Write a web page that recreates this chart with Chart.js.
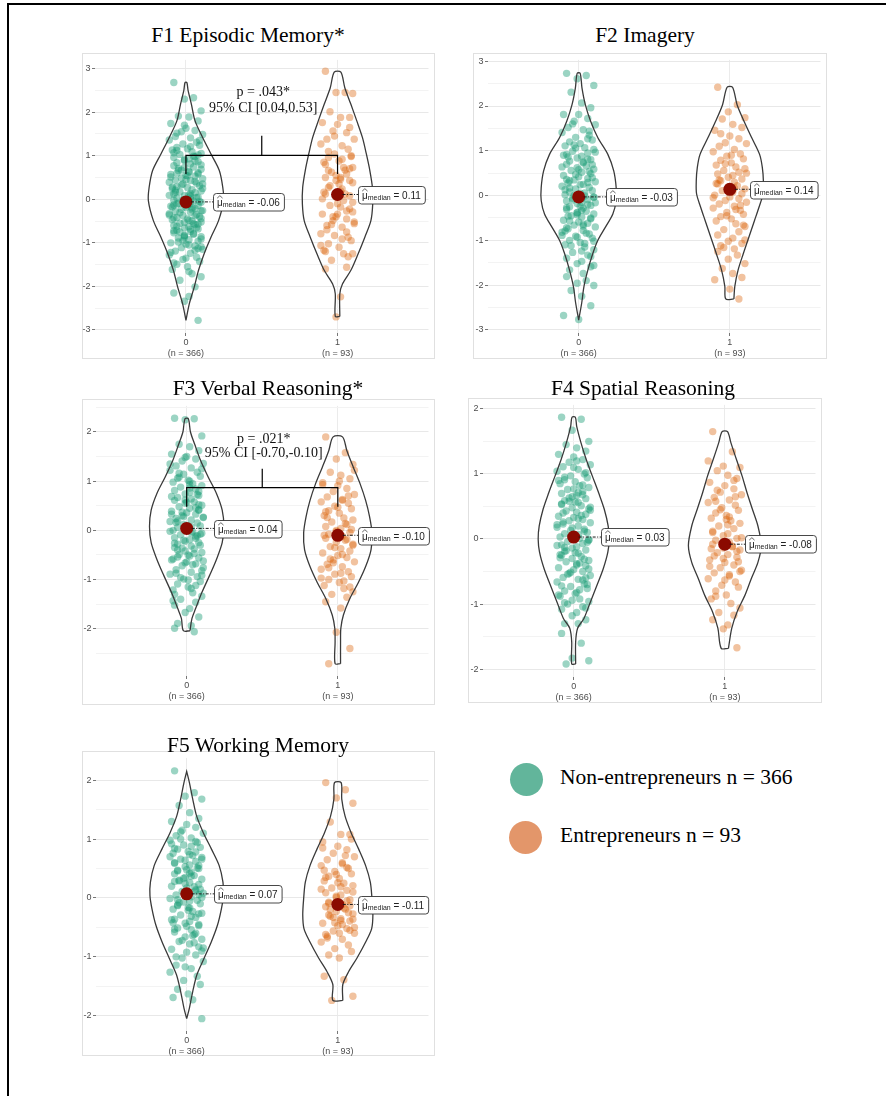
<!DOCTYPE html>
<html>
<head>
<meta charset="utf-8">
<title>Cognitive factors: non-entrepreneurs vs entrepreneurs</title>
<script src="https://cdn.jsdelivr.net/npm/chart.js@4.4.1/dist/chart.umd.min.js"></script>
<style>
  html, body { margin: 0; padding: 0; background: #fff; }
  body { width: 886px; height: 1096px; position: relative; overflow: hidden; font-family: "Liberation Serif", "DejaVu Serif", serif; }
  .frame { position: absolute; left: 7px; top: 3px; width: 900px; height: 1200px; border-top: 2px solid #000; border-left: 2px solid #000; }
  canvas.panel { position: absolute; }
  .title { position: absolute; width: 400px; text-align: center; font-size: 21.5px; line-height: 26px; color: #000; white-space: nowrap; }
  .legend-dot { position: absolute; width: 33px; height: 33px; border-radius: 50%; }
  .legend-text { position: absolute; font-size: 21.5px; line-height: 26px; color: #000; white-space: nowrap; }
</style>
</head>
<body>
<div class="frame"></div>
<div id="stage"></div>
<script>
// ---------- labels ----------
const TITLES = ['F1 Episodic Memory*', 'F2 Imagery', 'F3 Verbal Reasoning*', 'F4 Spatial Reasoning', 'F5 Working Memory'];
const GROUPS = [0, 1];
const X_TICK_LABELS = [['0', '(n = 366)'], ['1', '(n = 93)']];
const LEGEND_LABELS = ['Non-entrepreneurs n = 366', 'Entrepreneurs n = 93'];
const F1_TEST_TEXT = ['p = .043*', '95% CI [0.04,0.53]'];
const F3_TEST_TEXT = ['p = .021*', '95% CI [-0.70,-0.10]'];

// ---------- medians ----------
const F1_MEDIANS = [-0.06, 0.11];
const F2_MEDIANS = [-0.03, 0.14];
const F3_MEDIANS = [0.04, -0.10];
const F4_MEDIANS = [0.03, -0.08];
const F5_MEDIANS = [0.07, -0.11];

// ---------- factor scores (group 0 = non-entrepreneurs, group 1 = entrepreneurs) ----------
const F1_NON = [2.68,2.33,2.30,2.03,1.91,1.89,1.80,1.74,1.63,1.58,1.55,1.49,1.44,1.41,1.36,1.31,1.27,1.24,1.19,1.16,1.13,1.09,1.05,1.03,0.98,0.96,0.93,0.89,0.86,0.84,0.81,0.77,0.74,0.73,0.69,0.66,0.64,0.61,0.57,0.55,0.53,0.49,0.47,0.44,0.43,0.39,0.37,0.35,0.31,0.29,0.27,0.24,0.22,0.19,0.17,0.15,0.12,0.10,0.08,0.05,0.03,0.01,-0.02,-0.04,-0.06,-0.07,-0.09,-0.12,-0.14,-0.16,-0.19,-0.21,-0.23,-0.26,-0.28,-0.30,-0.33,-0.35,-0.37,-0.40,-0.42,-0.45,-0.47,-0.50,-0.52,-0.55,-0.58,-0.60,-0.63,-0.66,-0.68,-0.71,-0.74,-0.77,-0.80,-0.83,-0.86,-0.89,-0.93,-0.96,-1.00,-1.03,-1.07,-1.11,-1.15,-1.19,-1.24,-1.28,-1.33,-1.38,-1.43,-1.49,-1.55,-1.61,-1.71,-1.78,-1.86,-2.01,-2.15,-2.23,-2.34,-2.78,
  1.52,1.21,1.07,0.99,0.91,0.79,0.71,0.62,0.58,0.51,0.45,0.41,0.33,0.25,0.21,0.13,0.09,0.04,-0.01,-0.05,-0.11,-0.15,-0.18,-0.24,-0.27,-0.31,-0.38,-0.43,-0.48,-0.53,-0.57,-0.62,-0.69,-0.72,-0.79,-0.84,-0.91,-0.98,-1.05,-1.13,-1.22,-1.35,0.88,0.67,0.35,0.16,-0.08,-0.36,-0.65,-0.95,1.35,1.12,0.54,0.28,-0.20,-0.44,-0.75,-1.17,-1.46,-1.66,1.70,1.02,0.60,0.07,-0.13,-0.56,-0.87,-1.09];
const F1_ENT = [2.94,2.45,2.45,2.43,2.01,1.88,1.88,1.76,1.72,1.53,1.57,1.38,1.38,1.23,1.27,1.15,1.04,1.00,0.96,0.88,0.85,0.73,0.73,0.62,0.58,0.50,0.50,0.43,0.43,0.27,0.24,0.12,0.12,0.05,-0.07,-0.14,-0.18,-0.22,-0.34,-0.34,-0.45,-0.49,-0.56,-0.60,-0.64,-0.79,-0.87,-0.83,-0.95,-1.02,-1.10,-1.17,-1.25,-1.25,-1.40,-1.56,-1.60,-2.24,-2.70,
  1.65,1.10,0.92,0.80,0.67,0.55,0.38,0.31,0.19,0.08,0.01,-0.10,-0.27,-0.40,-0.52,-0.70,-0.91,-1.06,-1.32,1.45,0.98,0.66,0.35,0.16,-0.03,-0.29,-0.58,-0.75,-1.20,0.46,-0.40,0.70];
const F2_NON = [2.73,2.68,2.61,2.46,2.31,2.07,1.96,1.81,1.81,1.72,1.66,1.58,1.52,1.47,1.41,1.35,1.30,1.24,1.20,1.16,1.11,1.07,1.03,0.99,0.95,0.92,0.88,0.84,0.80,0.77,0.73,0.70,0.66,0.62,0.59,0.56,0.52,0.49,0.45,0.42,0.38,0.35,0.31,0.28,0.25,0.21,0.18,0.15,0.11,0.08,0.05,0.02,-0.01,-0.03,-0.06,-0.09,-0.12,-0.15,-0.18,-0.22,-0.25,-0.28,-0.31,-0.35,-0.38,-0.41,-0.45,-0.48,-0.52,-0.55,-0.59,-0.62,-0.66,-0.70,-0.74,-0.78,-0.82,-0.86,-0.91,-0.95,-1.00,-1.05,-1.10,-1.15,-1.21,-1.27,-1.33,-1.40,-1.47,-1.52,-1.59,-1.66,-1.74,-1.81,-1.90,-1.96,-2.01,-2.12,-2.25,-2.46,-2.68,-2.77,
  1.27,1.13,0.97,0.86,0.75,0.64,0.54,0.47,0.40,0.33,0.24,0.13,0.06,-0.04,-0.10,-0.20,-0.27,-0.33,-0.43,-0.50,-0.57,-0.64,-0.72,-0.84,-0.93,-1.02,-1.12,-1.24,-1.36,0.90,0.58,0.29,0.00,-0.16,-0.46,-0.68,-0.89,1.44,1.06,0.69,0.17,-0.24,-0.79,-1.07,-1.56,1.60,0.81,0.36,-0.07,-0.39];
const F2_ENT = [2.42,2.03,1.87,1.74,1.71,1.59,1.52,1.46,1.33,1.27,1.18,1.16,1.10,1.03,0.98,0.93,0.88,0.82,0.79,0.73,0.68,0.64,0.60,0.56,0.52,0.48,0.45,0.41,0.37,0.33,0.30,0.26,0.22,0.19,0.15,0.11,0.08,0.04,0.01,-0.03,-0.07,-0.11,-0.15,-0.19,-0.24,-0.28,-0.33,-0.38,-0.42,-0.47,-0.52,-0.57,-0.63,-0.69,-0.76,-0.81,-0.88,-0.95,-1.02,-1.07,-1.12,-1.19,-1.25,-1.33,-1.42,-1.52,-1.63,-1.74,-1.83,-1.88,-2.09,-2.31,
  0.71,0.50,0.35,0.17,-0.05,-0.22,-0.45,-0.66,1.38,0.90,0.27,-0.31,-0.99,-1.16];
const F3_NON = [2.28,2.27,2.25,1.92,1.75,1.70,1.62,1.55,1.50,1.45,1.41,1.36,1.31,1.27,1.22,1.18,1.14,1.10,1.06,1.02,0.98,0.95,0.91,0.88,0.84,0.81,0.77,0.74,0.71,0.67,0.64,0.61,0.58,0.55,0.51,0.48,0.45,0.42,0.39,0.36,0.33,0.30,0.27,0.24,0.21,0.18,0.15,0.12,0.09,0.06,0.03,0.00,-0.03,-0.06,-0.09,-0.12,-0.15,-0.19,-0.22,-0.25,-0.28,-0.32,-0.35,-0.38,-0.42,-0.45,-0.49,-0.52,-0.56,-0.60,-0.64,-0.68,-0.72,-0.76,-0.80,-0.85,-0.89,-0.94,-0.99,-1.04,-1.09,-1.15,-1.21,-1.27,-1.34,-1.40,-1.46,-1.52,-1.59,-1.67,-1.76,-1.89,-1.94,-1.99,-2.06,
  1.48,1.25,1.08,0.93,0.79,0.69,0.57,0.46,0.37,0.26,0.16,0.07,-0.02,-0.11,-0.20,-0.30,-0.40,-0.50,-0.58,-0.70,-0.82,-0.96,-1.12,-1.30,1.00,0.62,0.41,0.19,-0.05,-0.26,-0.47,-0.66,-0.91,1.16,0.86,0.52,0.33,0.10,-0.16,-0.36,-0.62,-0.87,-1.18,1.35,0.73,0.28,-0.08,-0.54,-1.01,-1.43];
const F3_ENT = [1.90,1.58,1.45,1.34,1.18,1.12,1.05,0.97,0.91,0.85,0.79,0.73,0.68,0.63,0.58,0.55,0.49,0.44,0.40,0.35,0.30,0.25,0.21,0.17,0.12,0.08,0.04,0.00,-0.04,-0.08,-0.12,-0.16,-0.20,-0.24,-0.28,-0.33,-0.37,-0.42,-0.46,-0.51,-0.55,-0.60,-0.64,-0.69,-0.74,-0.79,-0.84,-0.89,-0.94,-1.00,-1.06,-1.12,-1.18,-1.25,-1.30,-1.36,-1.45,-1.58,-2.07,-2.40,-2.71,
  0.61,0.38,0.14,-0.02,-0.30,-0.58,-0.87,-1.15,0.93,0.47,-0.18,-0.66,1.22,0.26,-0.49,-0.97,0.70,-0.35,0.02,-0.76,1.00,-0.10,-1.03];
const F4_NON = [1.87,1.84,1.67,1.50,1.45,1.40,1.35,1.30,1.26,1.22,1.18,1.14,1.11,1.07,1.04,1.00,0.97,0.94,0.91,0.88,0.85,0.82,0.79,0.76,0.73,0.70,0.67,0.65,0.62,0.59,0.56,0.54,0.51,0.48,0.46,0.43,0.41,0.38,0.35,0.33,0.30,0.28,0.25,0.23,0.20,0.18,0.15,0.13,0.10,0.08,0.05,0.03,0.01,-0.02,-0.04,-0.07,-0.09,-0.12,-0.14,-0.17,-0.19,-0.22,-0.25,-0.27,-0.30,-0.33,-0.35,-0.38,-0.41,-0.44,-0.47,-0.50,-0.53,-0.56,-0.59,-0.62,-0.66,-0.69,-0.73,-0.76,-0.80,-0.84,-0.88,-0.92,-0.96,-1.00,-1.04,-1.08,-1.13,-1.18,-1.24,-1.30,-1.30,-1.45,-1.60,-1.83,-1.87,-1.92,
  1.20,1.02,0.90,0.77,0.68,0.58,0.49,0.40,0.31,0.22,0.12,0.04,-0.05,-0.13,-0.21,-0.29,-0.37,-0.46,-0.54,-0.63,-0.72,-0.82,-0.94,-1.06,0.95,0.71,0.53,0.36,0.17,-0.01,-0.18,-0.40,-0.60,-0.86,1.10,0.83,0.63,0.44,0.26,0.07,-0.10,-0.31,-0.51,-0.70,-0.98,0.57,-0.24,-0.78];
const F4_ENT = [1.65,1.34,1.12,1.10,1.05,0.98,0.93,0.87,0.82,0.77,0.72,0.68,0.64,0.60,0.56,0.52,0.48,0.44,0.40,0.36,0.32,0.28,0.24,0.20,0.16,0.12,0.08,0.05,0.01,-0.02,-0.05,-0.08,-0.11,-0.14,-0.17,-0.21,-0.24,-0.28,-0.32,-0.36,-0.40,-0.44,-0.48,-0.52,-0.57,-0.61,-0.66,-0.71,-0.74,-0.80,-0.86,-0.92,-0.99,-1.06,-1.13,-1.17,-1.24,-1.32,-1.38,-1.67,
  0.58,0.34,0.10,-0.12,-0.30,-0.50,0.75,0.22,-0.19,-0.42,-0.63,0.90,0.45,0.02,-0.26,-0.55,1.20,0.65,-0.09,-0.35,-0.88,0.30,-0.15];
const F5_NON = [2.16,1.79,1.73,1.68,1.57,1.45,1.35,1.30,1.25,1.20,1.15,1.10,1.06,1.02,0.98,0.94,0.90,0.86,0.83,0.79,0.76,0.72,0.69,0.66,0.62,0.59,0.56,0.53,0.50,0.47,0.44,0.41,0.38,0.35,0.32,0.29,0.26,0.23,0.20,0.17,0.14,0.11,0.08,0.05,0.02,-0.01,-0.04,-0.07,-0.10,-0.13,-0.16,-0.19,-0.23,-0.26,-0.29,-0.33,-0.36,-0.40,-0.43,-0.47,-0.51,-0.54,-0.58,-0.62,-0.66,-0.70,-0.74,-0.78,-0.83,-0.87,-0.92,-0.97,-1.02,-1.08,-1.14,-1.20,-1.26,-1.33,-1.40,-1.47,-1.55,-1.63,-1.69,-1.73,-2.05,
  1.12,0.96,0.84,0.74,0.64,0.55,0.46,0.37,0.28,0.19,0.10,0.01,-0.08,-0.17,-0.27,-0.37,-0.48,-0.60,-0.72,-0.85,-1.00,0.88,0.70,0.51,0.33,0.15,-0.03,-0.21,-0.42,-0.64,-0.90,1.00,0.78,0.60,0.42,0.24,0.06,-0.12,-0.31,-0.53,-0.76,-1.17,0.66,0.30,-0.05,-0.45,0.92,0.48,0.12];
const F5_ENT = [1.96,1.84,1.70,1.61,1.29,1.08,1.08,0.95,0.88,0.82,0.76,0.70,0.65,0.60,0.55,0.50,0.45,0.41,0.37,0.33,0.29,0.25,0.21,0.17,0.13,0.09,0.05,0.01,-0.03,-0.07,-0.11,-0.15,-0.19,-0.23,-0.27,-0.31,-0.35,-0.39,-0.43,-0.47,-0.52,-0.56,-0.60,-0.65,-0.70,-0.75,-0.80,-0.86,-0.91,-0.97,-1.02,-1.33,-1.39,-1.67,-1.74,
  0.52,0.35,0.19,0.03,-0.13,-0.29,-0.45,-0.62,0.72,0.40,0.10,-0.20,-0.38,-0.55,0.85,0.26,-0.05,-0.33,-0.50,-0.68,0.58,0.15,-0.25,-0.42,1.00,-0.09,-0.60,0.47,-0.17,-0.36];

// ---------- violin density outlines: [score, half-width] from bottom to top ----------
const F1_NON_VIOLIN = [[-2.78,0.0],[-2.4,0.022],[-2.01,0.055],[-1.63,0.083],[-1.25,0.12],[-0.87,0.165],[-0.49,0.215],[-0.03,0.248],[0.27,0.243],[0.66,0.22],[1.04,0.165],[1.42,0.11],[1.8,0.06],[2.18,0.036],[2.5,0.014],[2.68,0.006]];
const F1_ENT_VIOLIN = [[-2.69,0.015],[-2.17,0.015],[-1.94,0.033],[-1.63,0.088],[-1.25,0.136],[-0.87,0.18],[-0.49,0.22],[-0.11,0.232],[0.27,0.23],[0.66,0.213],[1.04,0.19],[1.42,0.164],[1.8,0.127],[2.18,0.088],[2.56,0.048],[2.92,0.022]];
const F2_NON_VIOLIN = [[-2.78,0.0],[-2.4,0.02],[-2.03,0.035],[-1.66,0.061],[-1.29,0.094],[-1.0,0.127],[-0.7,0.178],[-0.41,0.226],[-0.11,0.248],[0.18,0.248],[0.55,0.232],[0.92,0.193],[1.29,0.127],[1.66,0.079],[2.03,0.044],[2.4,0.022],[2.73,0.01]];
const F2_ENT_VIOLIN = [[-2.31,0.027],[-2.03,0.033],[-1.66,0.055],[-1.29,0.09],[-0.92,0.127],[-0.55,0.164],[-0.26,0.193],[0.04,0.22],[0.33,0.222],[0.63,0.215],[0.92,0.197],[1.29,0.145],[1.66,0.094],[2.03,0.048],[2.42,0.018]];
const F3_NON_VIOLIN = [[-2.04,0.022],[-1.79,0.035],[-1.59,0.059],[-1.26,0.101],[-0.92,0.151],[-0.59,0.197],[-0.25,0.235],[0.08,0.246],[0.41,0.235],[0.75,0.197],[1.08,0.143],[1.42,0.092],[1.75,0.053],[2.0,0.025],[2.27,0.011]];
const F3_ENT_VIOLIN = [[-2.71,0.018],[-2.26,0.018],[-1.99,0.02],[-1.72,0.037],[-1.39,0.079],[-1.06,0.136],[-0.72,0.186],[-0.39,0.22],[-0.05,0.226],[0.28,0.21],[0.61,0.184],[0.95,0.147],[1.28,0.103],[1.62,0.06],[1.9,0.031]];
const F4_NON_VIOLIN = [[-1.92,0.013],[-1.58,0.013],[-1.37,0.026],[-1.22,0.068],[-0.97,0.11],[-0.71,0.154],[-0.46,0.195],[-0.2,0.226],[0.0,0.235],[0.2,0.228],[0.46,0.202],[0.71,0.165],[0.97,0.123],[1.22,0.083],[1.48,0.048],[1.73,0.02],[1.87,0.011]];
const F4_ENT_VIOLIN = [[-1.68,0.024],[-1.37,0.046],[-1.12,0.081],[-0.87,0.132],[-0.61,0.175],[-0.36,0.219],[-0.1,0.241],[0.2,0.219],[0.46,0.182],[0.71,0.147],[0.97,0.114],[1.22,0.077],[1.48,0.04],[1.65,0.018]];
const F5_NON_VIOLIN = [[-2.05,0.0],[-1.87,0.018],[-1.59,0.04],[-1.3,0.068],[-1.02,0.116],[-0.74,0.164],[-0.46,0.204],[-0.18,0.23],[0.04,0.243],[0.27,0.24],[0.55,0.215],[0.83,0.164],[1.11,0.11],[1.39,0.066],[1.68,0.04],[1.96,0.018],[2.15,0.0]];
const F5_ENT_VIOLIN = [[-1.74,0.033],[-1.47,0.033],[-1.25,0.072],[-1.02,0.127],[-0.74,0.186],[-0.52,0.224],[-0.29,0.232],[-0.01,0.226],[0.27,0.215],[0.55,0.184],[0.83,0.138],[1.11,0.088],[1.39,0.048],[1.68,0.026],[1.96,0.022]];

// ---------- styling ----------
const SANS = '"Liberation Sans", Arial, sans-serif';
const SERIF = '"Liberation Serif", "DejaVu Serif", serif';
const POINT_COLORS = ['rgba(27,158,119,0.44)', 'rgba(217,95,2,0.38)'];
const LEGEND_COLORS = ['#62b59b', '#e3966a'];
const MEDIAN_COLOR = '#8b0a00';
const VIOLIN_COLOR = '#3a3a3a';
// horizontal spread of the jittered points (category units), cycled over the points
const JITTER = [-0.08,0.05,-0.01,0.10,-0.05,0.02,0.08,-0.10,0.00,0.06,-0.03,0.11,-0.07,0.03,-0.11,0.07,-0.02,0.09,-0.06,0.01,-0.09,0.04,0.10,-0.04,0.06,-0.08,0.02,-0.01,0.08,-0.06,0.03];
const LABEL_OFFSETS = [27, 20];

// panel layout: box = [left, top, width, height] in page px; pad = plot-area insets
const PANELS = [
  { title: TITLES[0], titleAt: [248, 35], box: [82, 53, 353, 306], pad: { l: 13, r: 6, t: 6, b: 26 }, yRange: [-3.07, 3.2],
    non: F1_NON, ent: F1_ENT, nonViolin: F1_NON_VIOLIN, entViolin: F1_ENT_VIOLIN, medians: F1_MEDIANS,
    test: { text: F1_TEST_TEXT, bar: 1.01, drop: 0.58, stem: 1.46, textY: [2.45, 2.09] } },
  { title: TITLES[1], titleAt: [645, 35], box: [473, 53, 354, 306], pad: { l: 15, r: 5, t: 6, b: 26 }, yRange: [-3.07, 3.03],
    non: F2_NON, ent: F2_ENT, nonViolin: F2_NON_VIOLIN, entViolin: F2_ENT_VIOLIN, medians: F2_MEDIANS, test: null },
  { title: TITLES[2], titleAt: [268, 388], box: [82, 399, 353, 306], pad: { l: 14, r: 6, t: 4, b: 29 }, yRange: [-2.96, 2.53],
    non: F3_NON, ent: F3_ENT, nonViolin: F3_NON_VIOLIN, entViolin: F3_ENT_VIOLIN, medians: F3_MEDIANS,
    test: { text: F3_TEST_TEXT, bar: 0.87, drop: 0.48, stem: 1.25, textY: [1.85, 1.57] } },
  { title: TITLES[3], titleAt: [643, 388], box: [468, 398, 354, 305], pad: { l: 15, r: 5, t: 5, b: 26 }, yRange: [-2.12, 2.06],
    non: F4_NON, ent: F4_ENT, nonViolin: F4_NON_VIOLIN, entViolin: F4_ENT_VIOLIN, medians: F4_MEDIANS, test: null },
  { title: TITLES[4], titleAt: [258, 745], box: [82, 751, 353, 305], pad: { l: 14, r: 6, t: 4, b: 25 }, yRange: [-2.26, 2.38],
    non: F5_NON, ent: F5_ENT, nonViolin: F5_NON_VIOLIN, entViolin: F5_ENT_VIOLIN, medians: F5_MEDIANS, test: null }
];

function jittered(values, g) {
  return values.map((v, i) => ({ x: g + JITTER[i % JITTER.length], y: v }));
}
function violinOutline(profile, g) {
  const right = profile.map(([y, w]) => ({ x: g + w, y }));
  const left = profile.slice().reverse().map(([y, w]) => ({ x: g - w, y }));
  return right.concat(left, [right[0]]);
}
function halfSteps(min, max) {
  const out = [];
  for (let v = Math.ceil(min * 2) / 2; v <= max + 1e-9; v += 0.5) out.push(Math.round(v * 2) / 2);
  return out;
}
const isWhole = v => v !== undefined && Math.abs(v - Math.round(v)) < 1e-6;

function roundRect(ctx, x, y, w, h, r) {
  ctx.beginPath();
  ctx.moveTo(x + r, y);
  ctx.lineTo(x + w - r, y); ctx.quadraticCurveTo(x + w, y, x + w, y + r);
  ctx.lineTo(x + w, y + h - r); ctx.quadraticCurveTo(x + w, y + h, x + w - r, y + h);
  ctx.lineTo(x + r, y + h); ctx.quadraticCurveTo(x, y + h, x, y + h - r);
  ctx.lineTo(x, y + r); ctx.quadraticCurveTo(x, y, x + r, y);
  ctx.closePath();
}

function drawMedianLabel(ctx, x, y, value, offset) {
  const bx = Math.round(x + offset) + 0.5;
  ctx.save();
  // dot-dash connector from the median point to its label
  ctx.strokeStyle = '#1a1a1a';
  ctx.lineWidth = 1;
  ctx.setLineDash([3, 1.5, 1, 1.5]);
  ctx.beginPath(); ctx.moveTo(x + 5, y); ctx.lineTo(bx, y); ctx.stroke();
  ctx.setLineDash([]);
  const big = '10px ' + SANS, small = '7px ' + SANS;
  const valTxt = ' = ' + value.toFixed(2);
  ctx.font = big;
  const wMu = ctx.measureText('μ').width;
  const wVal = ctx.measureText(valTxt).width;
  ctx.font = small;
  const wSub = ctx.measureText('median').width;
  const padL = 3.5, padR = 4.5, h = 17.5;
  const w = padL + wMu + wSub + wVal + padR;
  const top = Math.round(y - h / 2) + 0.5;
  roundRect(ctx, bx, top, w, h, 3);
  ctx.fillStyle = '#fff'; ctx.fill();
  ctx.strokeStyle = '#333'; ctx.lineWidth = 0.9; ctx.stroke();
  const base = top + 12.2;
  ctx.fillStyle = '#222';
  ctx.textBaseline = 'alphabetic'; ctx.textAlign = 'left';
  ctx.font = big; ctx.fillText('μ', bx + padL, base);
  // circumflex over the mu
  ctx.strokeStyle = '#222'; ctx.lineWidth = 0.7;
  ctx.beginPath();
  ctx.moveTo(bx + padL + 0.2, base - 7.6);
  ctx.lineTo(bx + padL + wMu / 2, base - 10);
  ctx.lineTo(bx + padL + wMu - 0.2, base - 7.6);
  ctx.stroke();
  ctx.font = small; ctx.fillText('median', bx + padL + wMu, base + 1.5);
  ctx.font = big; ctx.fillText(valTxt, bx + padL + wMu + wSub, base);
  ctx.restore();
}

function makeAnnotations(panel) {
  return {
    id: 'panelAnnotations',
    beforeDraw(chart) {
      const { ctx, width, height } = chart;
      ctx.save();
      ctx.fillStyle = '#fff';
      ctx.fillRect(0, 0, width, height);
      ctx.strokeStyle = '#e0e0e0';
      ctx.lineWidth = 1;
      ctx.strokeRect(0.5, 0.5, width - 1, height - 1);
      ctx.restore();
    },
    afterDatasetsDraw(chart) {
      const { ctx } = chart;
      const xs = chart.scales.x, ys = chart.scales.y;
      GROUPS.forEach(g => {
        const med = panel.medians[g];
        drawMedianLabel(ctx, xs.getPixelForValue(g), ys.getPixelForValue(med), med, LABEL_OFFSETS[g]);
      });
      if (panel.test) {
        ctx.save();
        ctx.fillStyle = '#111';
        ctx.font = '14px ' + SERIF;
        ctx.textAlign = 'center';
        ctx.textBaseline = 'middle';
        panel.test.text.forEach((t, i) => {
          ctx.fillText(t, xs.getPixelForValue(0.51), ys.getPixelForValue(panel.test.textY[i]));
        });
        ctx.restore();
      }
    }
  };
}

const stage = document.getElementById('stage');

PANELS.forEach(panel => {
  const [left, top, width, height] = panel.box;
  const canvas = document.createElement('canvas');
  canvas.className = 'panel';
  canvas.width = width; canvas.height = height;
  canvas.style.left = left + 'px'; canvas.style.top = top + 'px';
  canvas.style.width = width + 'px'; canvas.style.height = height + 'px';
  stage.appendChild(canvas);

  const title = document.createElement('div');
  title.className = 'title';
  title.textContent = panel.title;
  title.style.left = (panel.titleAt[0] - 200) + 'px';
  title.style.top = (panel.titleAt[1] - 13) + 'px';
  stage.appendChild(title);

  const datasets = [
    { label: 'non points', data: jittered(panel.non, 0), backgroundColor: POINT_COLORS[0], borderWidth: 0, pointRadius: 3.7, order: 6 },
    { label: 'ent points', data: jittered(panel.ent, 1), backgroundColor: POINT_COLORS[1], borderWidth: 0, pointRadius: 3.7, order: 5 },
    { label: 'non violin', data: violinOutline(panel.nonViolin, 0), showLine: true, fill: false, tension: 0.3, borderColor: VIOLIN_COLOR, borderWidth: 1.3, pointRadius: 0, order: 4 },
    { label: 'ent violin', data: violinOutline(panel.entViolin, 1), showLine: true, fill: false, tension: 0.3, borderColor: VIOLIN_COLOR, borderWidth: 1.3, pointRadius: 0, order: 3 },
    { label: 'medians', data: GROUPS.map(g => ({ x: g, y: panel.medians[g] })), backgroundColor: MEDIAN_COLOR, borderWidth: 0, pointRadius: 6.5, order: 1 }
  ];
  if (panel.test) {
    const t = panel.test;
    datasets.push(
      { label: 'bracket', data: [{ x: 0, y: t.drop }, { x: 0, y: t.bar }, { x: 1, y: t.bar }, { x: 1, y: t.drop }], showLine: true, tension: 0, fill: false, borderColor: '#000', borderWidth: 1.2, pointRadius: 0, order: 2 },
      { label: 'stem', data: [{ x: 0.5, y: t.bar }, { x: 0.5, y: t.stem }], showLine: true, tension: 0, fill: false, borderColor: '#000', borderWidth: 1.2, pointRadius: 0, order: 2 }
    );
  }

  new Chart(canvas, {
    type: 'scatter',
    data: { datasets },
    plugins: [makeAnnotations(panel)],
    options: {
      responsive: false,
      animation: false,
      devicePixelRatio: 1,
      events: [],
      layout: { padding: { left: 0, top: panel.pad.t, right: panel.pad.r, bottom: 0 } },
      plugins: { legend: { display: false }, tooltip: { enabled: false }, title: { display: false } },
      scales: {
        x: {
          type: 'linear', min: -0.6, max: 1.6, bounds: 'data',
          afterBuildTicks: s => { s.ticks = GROUPS.map(v => ({ value: v })); },
          afterFit: s => { s.height = panel.pad.b; },
          ticks: { autoSkip: false, maxRotation: 0, padding: 1, color: '#4d4d4d', font: { family: SANS, size: 9 },
                   callback: (v, i) => X_TICK_LABELS[i] },
          grid: { color: '#ebebeb', lineWidth: 1, drawTicks: true, tickLength: 3, tickColor: '#777' },
          border: { display: false }
        },
        y: {
          type: 'linear', min: panel.yRange[0], max: panel.yRange[1], bounds: 'data',
          afterBuildTicks: s => { s.ticks = halfSteps(panel.yRange[0], panel.yRange[1]).map(v => ({ value: v })); },
          afterFit: s => { s.width = panel.pad.l; },
          ticks: { autoSkip: false, padding: 1.5, color: '#4d4d4d', font: { family: SANS, size: 9 },
                   callback: v => isWhole(v) ? String(Math.round(v)) : '' },
          grid: {
            color: c => isWhole(c.tick && c.tick.value) ? '#e8e8e8' : '#f3f3f3',
            lineWidth: 1, drawTicks: true, tickLength: 3,
            tickColor: c => isWhole(c.tick && c.tick.value) ? '#777' : 'rgba(0,0,0,0)'
          },
          border: { display: false }
        }
      }
    }
  });
});

// legend
[[526, 779], [525, 837]].forEach(([cx, cy], i) => {
  const dot = document.createElement('div');
  dot.className = 'legend-dot';
  dot.style.left = (cx - 16.5) + 'px';
  dot.style.top = (cy - 16.5) + 'px';
  dot.style.background = LEGEND_COLORS[i];
  stage.appendChild(dot);
  const txt = document.createElement('div');
  txt.className = 'legend-text';
  txt.textContent = LEGEND_LABELS[i];
  txt.style.left = '560px';
  txt.style.top = (cy - 15) + 'px';
  stage.appendChild(txt);
});
</script>
</body>
</html>
